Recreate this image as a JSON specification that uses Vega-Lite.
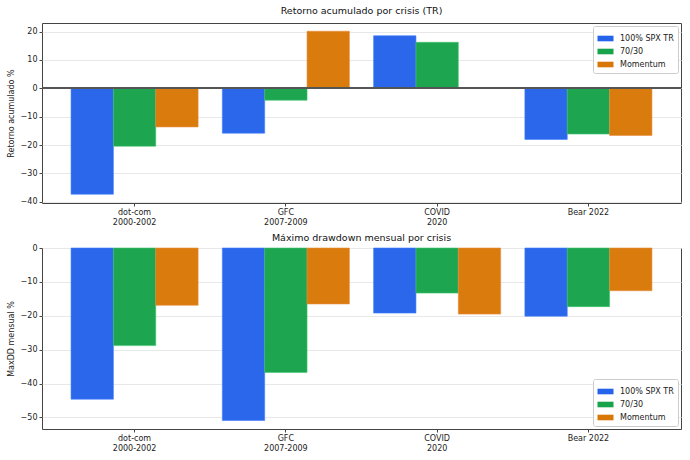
{
  "$schema": "https://vega.github.io/schema/vega-lite/v6.json",
  "background": "white",
  "padding": {"left": 6, "top": 5, "right": 5, "bottom": 5},
  "data": {
    "values": [
      {"panel": "ret", "crisis": "dot-com|2000-2002", "strategy": "100% SPX TR", "value": -37.3},
      {"panel": "ret", "crisis": "dot-com|2000-2002", "strategy": "70/30", "value": -20.4},
      {"panel": "ret", "crisis": "dot-com|2000-2002", "strategy": "Momentum", "value": -13.6},
      {"panel": "ret", "crisis": "GFC|2007-2009", "strategy": "100% SPX TR", "value": -15.8},
      {"panel": "ret", "crisis": "GFC|2007-2009", "strategy": "70/30", "value": -4.2},
      {"panel": "ret", "crisis": "GFC|2007-2009", "strategy": "Momentum", "value": 20.1},
      {"panel": "ret", "crisis": "COVID|2020", "strategy": "100% SPX TR", "value": 18.5},
      {"panel": "ret", "crisis": "COVID|2020", "strategy": "70/30", "value": 16.2},
      {"panel": "ret", "crisis": "COVID|2020", "strategy": "Momentum", "value": 0.2},
      {"panel": "ret", "crisis": "Bear 2022", "strategy": "100% SPX TR", "value": -18.0},
      {"panel": "ret", "crisis": "Bear 2022", "strategy": "70/30", "value": -16.1},
      {"panel": "ret", "crisis": "Bear 2022", "strategy": "Momentum", "value": -16.6},
      {"panel": "dd", "crisis": "dot-com|2000-2002", "strategy": "100% SPX TR", "value": -44.6},
      {"panel": "dd", "crisis": "dot-com|2000-2002", "strategy": "70/30", "value": -28.8},
      {"panel": "dd", "crisis": "dot-com|2000-2002", "strategy": "Momentum", "value": -16.9},
      {"panel": "dd", "crisis": "GFC|2007-2009", "strategy": "100% SPX TR", "value": -50.9},
      {"panel": "dd", "crisis": "GFC|2007-2009", "strategy": "70/30", "value": -36.7},
      {"panel": "dd", "crisis": "GFC|2007-2009", "strategy": "Momentum", "value": -16.5},
      {"panel": "dd", "crisis": "COVID|2020", "strategy": "100% SPX TR", "value": -19.2},
      {"panel": "dd", "crisis": "COVID|2020", "strategy": "70/30", "value": -13.3},
      {"panel": "dd", "crisis": "COVID|2020", "strategy": "Momentum", "value": -19.5},
      {"panel": "dd", "crisis": "Bear 2022", "strategy": "100% SPX TR", "value": -20.1},
      {"panel": "dd", "crisis": "Bear 2022", "strategy": "70/30", "value": -17.3},
      {"panel": "dd", "crisis": "Bear 2022", "strategy": "Momentum", "value": -12.6}
    ]
  },
  "spacing": 4,
  "resolve": {"legend": {"color": "independent"}, "scale": {"y": "independent"}},
  "vconcat": [
    {
      "width": 639,
      "height": 180,
      "title": {"text": "Retorno acumulado por crisis (TR)", "offset": 8},
      "layer": [
        {
          "transform": [{"filter": "datum.panel === 'ret'"}],
          "mark": {"type": "bar", "strokeWidth": 0.6, "opacity": 0.97},
          "encoding": {
            "x": {
              "field": "crisis", "type": "nominal", "sort": null, "title": null,
              "scale": {"paddingInner": 0.16, "paddingOuter": 0.192},
              "axis": {"labelExpr": "split(datum.label, '|')", "labelAngle": 0}
            },
            "xOffset": {
              "field": "strategy", "type": "nominal",
              "sort": ["100% SPX TR", "70/30", "Momentum"],
              "scale": {"paddingInner": 0, "paddingOuter": 0}
            },
            "y": {
              "field": "value", "type": "quantitative", "title": "Retorno acumulado %",
              "scale": {"domain": [-40.4, 23.0], "nice": false, "zero": false},
              "axis": {"values": [-40, -30, -20, -10, 0, 10, 20]}
            },
            "color": {
              "field": "strategy", "type": "nominal", "title": null,
              "scale": {"domain": ["100% SPX TR", "70/30", "Momentum"], "range": ["#2563eb", "#16a34a", "#d97706"]},
              "legend": {"orient": "top-right", "offset": 3}
            },
            "stroke": {
              "field": "strategy", "type": "nominal", "legend": null,
              "scale": {"domain": ["100% SPX TR", "70/30", "Momentum"], "range": ["#3b7bff", "#3cc46c", "#e8893a"]}
            }
          }
        },
        {
          "mark": {"type": "rule", "color": "#555555", "strokeWidth": 1},
          "encoding": {
            "y": {
              "datum": 0, "type": "quantitative", "title": "Retorno acumulado %",
              "axis": {"values": [-40, -30, -20, -10, 0, 10, 20]}
            }
          }
        }
      ]
    },
    {
      "width": 639,
      "height": 181,
      "title": {"text": "Máximo drawdown mensual por crisis", "offset": 2},
      "transform": [{"filter": "datum.panel === 'dd'"}],
      "mark": {"type": "bar", "strokeWidth": 0.6, "opacity": 0.97},
      "encoding": {
        "x": {
          "field": "crisis", "type": "nominal", "sort": null, "title": null,
          "scale": {"paddingInner": 0.16, "paddingOuter": 0.192},
          "axis": {"labelExpr": "split(datum.label, '|')", "labelAngle": 0}
        },
        "xOffset": {
          "field": "strategy", "type": "nominal",
          "sort": ["100% SPX TR", "70/30", "Momentum"],
          "scale": {"paddingInner": 0, "paddingOuter": 0}
        },
        "y": {
          "field": "value", "type": "quantitative", "title": "MaxDD mensual %",
          "scale": {"domain": [-53.4, 0], "nice": false, "zero": false},
          "axis": {"values": [-50, -40, -30, -20, -10, 0]}
        },
        "color": {
          "field": "strategy", "type": "nominal", "title": null,
          "scale": {"domain": ["100% SPX TR", "70/30", "Momentum"], "range": ["#2563eb", "#16a34a", "#d97706"]},
          "legend": {"orient": "bottom-right", "offset": 3}
        },
        "stroke": {
          "field": "strategy", "type": "nominal", "legend": null,
          "scale": {"domain": ["100% SPX TR", "70/30", "Momentum"], "range": ["#3b7bff", "#3cc46c", "#e8893a"]}
        }
      }
    }
  ],
  "config": {
    "font": "DejaVu Sans",
    "view": {"stroke": "#444444", "strokeWidth": 1},
    "axis": {
      "domain": false,
      "labelFont": "DejaVu Sans",
      "titleFont": "DejaVu Sans",
      "labelFontSize": 8,
      "titleFontSize": 8,
      "titleFontWeight": "normal",
      "labelColor": "#222222",
      "titleColor": "#222222",
      "tickColor": "#444444",
      "tickSize": 3,
      "labelPadding": 2,
      "titlePadding": 5,
      "gridColor": "#e8e8e8",
      "labelLineHeight": 10.6
    },
    "axisX": {"grid": false, "labelPadding": 2},
    "axisY": {"grid": true},
    "legend": {
      "labelFont": "DejaVu Sans",
      "labelFontSize": 8,
      "labelColor": "#222222",
      "symbolType": "M-1,-0.35L1,-0.35L1,0.35L-1,0.35Z",
      "symbolSize": 256,
      "symbolOpacity": 1,
      "symbolStrokeWidth": 0.6,
      "strokeColor": "#cccccc",
      "fillColor": "white",
      "cornerRadius": 2,
      "padding": 4,
      "rowPadding": -3.5,
      "labelOffset": 6
    },
    "title": {
      "font": "DejaVu Sans",
      "fontSize": 9.5,
      "fontWeight": "normal",
      "color": "#111111",
      "offset": 6
    }
  }
}
